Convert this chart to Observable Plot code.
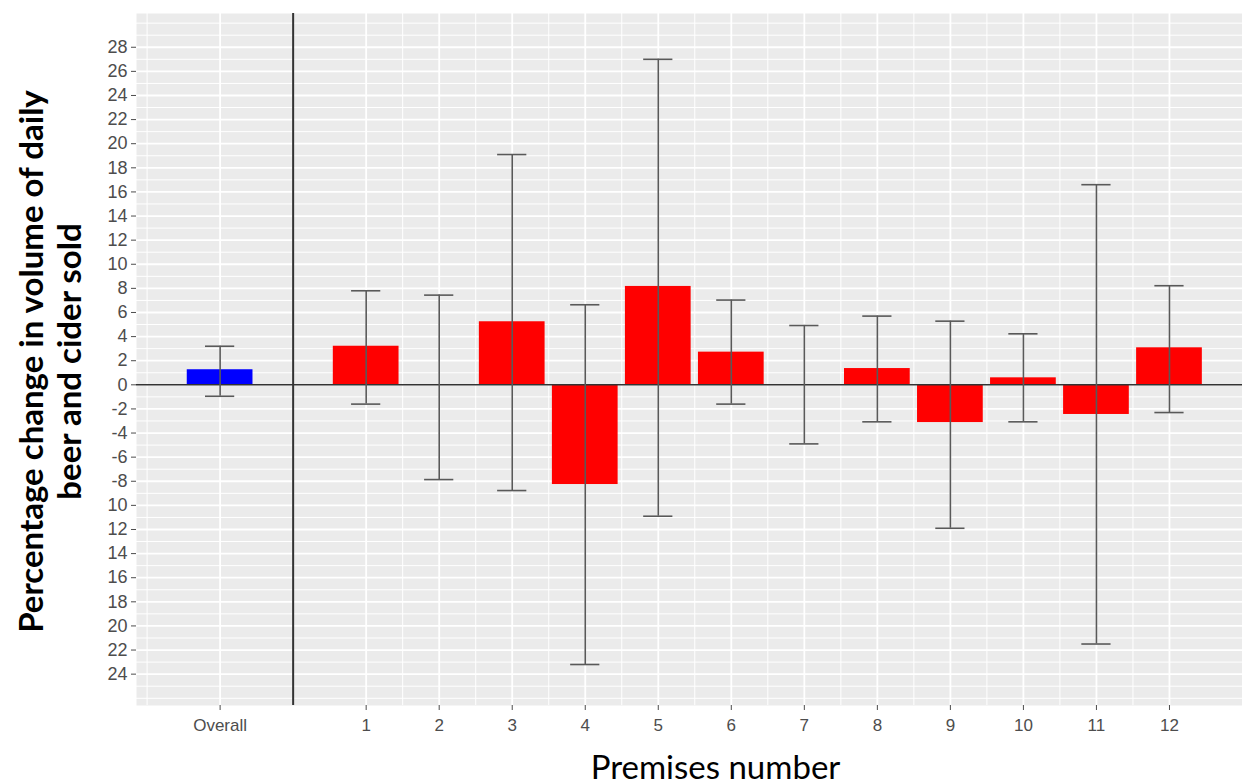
<!DOCTYPE html>
<html><head><meta charset="utf-8">
<script src="https://cdn.jsdelivr.net/npm/d3@7"></script>
<script src="https://cdn.jsdelivr.net/npm/@observablehq/plot@0.6"></script>
<style>html,body{margin:0;padding:0;background:#fff} #chart svg{display:block}</style>
</head><body><div id="chart"></div>
<script>
// ---- data ----
const categories = ["Overall","1","2","3","4","5","6","7","8","9","10","11","12"];
const values     = [1.25, 3.2, 0, 5.23, -8.27, 8.16, 2.71, 0, 1.35, -3.13, 0.58, -2.46, 3.07];
const lower      = [-0.95, -1.6, -7.86, -8.77, -23.2, -10.9, -1.6, -4.9, -3.07, -11.9, -3.07, -21.5, -2.3];
const upper      = [3.2, 7.8, 7.44, 19.1, 6.64, 27.0, 7.03, 4.92, 5.7, 5.28, 4.23, 16.6, 8.22];
const barColors  = ["#0000FF","#FF0000","#FF0000","#FF0000","#FF0000","#FF0000","#FF0000","#FF0000","#FF0000","#FF0000","#FF0000","#FF0000","#FF0000"];
const yTickValues = [-24,-22,-20,-18,-16,-14,-12,-10,-8,-6,-4,-2,0,2,4,6,8,10,12,14,16,18,20,22,24,26,28];
const yTickLabels = ["24","22","20","18","16","14","12","10","-8","-6","-4","-2","0","2","4","6","8","10","12","14","16","18","20","22","24","26","28"];
const yTitle = "Percentage change in volume of daily\nbeer and cider sold";
const xTitle = "Premises number";

// ---- derived table ----
const pos = c => c === "Overall" ? -1 : +c;
const data = categories.map((c, i) => ({
  cat: c, pos: pos(c), value: values[i], lower: lower[i], upper: upper[i], color: barColors[i]
}));
const xTicks = data.map(d => d.pos);
const xMinor = [-2, 0, ...d3.range(1.5, 12, 1), 13];
const yMinor = d3.range(-25, 31, 2).concat([-26, 30]);
const yLabel = new Map(yTickValues.map((v, i) => [v, yTickLabels[i]]));
const xLabel = new Map(data.map(d => [d.pos, d.cat]));

const half = 0.45, cap = 0.2;

const plot = Plot.plot({
  width: 1242, height: 784,
  marginLeft: 136, marginRight: 0, marginTop: 13, marginBottom: 79,
  style: {background: "white", fontFamily: "'Liberation Sans', Arial, sans-serif", overflow: "visible"},
  x: {domain: [-2.145, 13.0], axis: null},
  y: {domain: [-26.6, 30.8], axis: null},
  color: {type: "identity"},
  marks: [
    Plot.frame({fill: "#EBEBEB", stroke: null}),
    Plot.gridY(yMinor, {stroke: "white", strokeOpacity: 1, strokeWidth: 1}),
    Plot.gridY(yTickValues, {stroke: "white", strokeOpacity: 1, strokeWidth: 1.8}),
    Plot.gridX(xMinor, {stroke: "white", strokeOpacity: 1, strokeWidth: 1}),
    Plot.gridX(xTicks, {stroke: "white", strokeOpacity: 1, strokeWidth: 1.8}),
    Plot.rect(data, {x1: d => d.pos - half, x2: d => d.pos + half, y1: 0, y2: "value", fill: "color"}),
    Plot.ruleY([0], {stroke: "#333333", strokeWidth: 1.6}),
    Plot.ruleX([0], {stroke: "#333333", strokeWidth: 2}),
    Plot.ruleX(data, {x: "pos", y1: "lower", y2: "upper", stroke: "#595959", strokeWidth: 1.6}),
    Plot.ruleY(data, {y: "upper", x1: d => d.pos - cap, x2: d => d.pos + cap, stroke: "#595959", strokeWidth: 1.6}),
    Plot.ruleY(data, {y: "lower", x1: d => d.pos - cap, x2: d => d.pos + cap, stroke: "#595959", strokeWidth: 1.6}),
    Plot.axisY(yTickValues, {tickFormat: v => yLabel.get(v), tickSize: 5, tickPadding: 4, fontSize: 18, color: "#4D4D4D", label: null}),
    Plot.axisX(xTicks, {tickFormat: v => xLabel.get(v), tickSize: 5, tickPadding: 8, fontSize: 17, color: "#4D4D4D", label: null}),
    Plot.text([yTitle], {text: d => d, frameAnchor: "left", textAnchor: "middle", lineAnchor: "middle", rotate: -90, dx: -87, dy: 2, fontSize: 33, fontWeight: "bold", fontFamily: "Lato", lineHeight: 1.18, fill: "black"}),
    Plot.text([xTitle], {text: d => d, frameAnchor: "bottom", dy: 73, dx: 26, fontSize: 33, fontFamily: "Lato", fill: "black"})
  ]
});
document.getElementById("chart").appendChild(plot);
</script>
</body></html>
